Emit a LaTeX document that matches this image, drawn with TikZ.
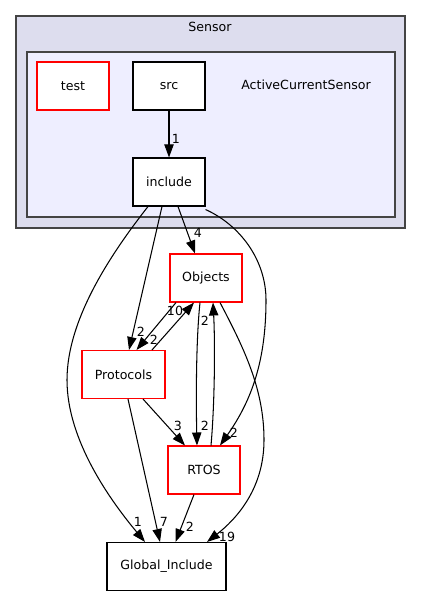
\documentclass[tikz,border=0pt]{standalone}
\usepackage{fontspec}
\setmainfont{DejaVu Sans}
\usetikzlibrary{arrows.meta,calc}
\definecolor{outerfill}{HTML}{DDDDEE}
\definecolor{innerfill}{HTML}{EEEEFF}
\definecolor{clusterborder}{HTML}{444444}
\definecolor{redborder}{HTML}{FF0000}
\begin{document}
\begin{tikzpicture}[x=1pt,y=-1pt,
  font=\fontsize{12.6}{15}\selectfont,
  box/.style={draw=black,fill=white,line width=1.05pt,minimum width=72pt,minimum height=48pt,inner sep=0pt},
  redbox/.style={box,draw=redborder},
  dep/.style={draw=black,line width=1.05pt,-{Triangle[length=13pt,width=9.3pt]}},
  lbl/.style={inner sep=0pt},
  cluster/.style={draw=clusterborder,line width=1.4pt}]
\useasboundingbox (0,0) rectangle (421,596);
% clusters
\draw[cluster,fill=outerfill] (16,16) rectangle (405,228);
\node[lbl] (sensorlbl) at (210,27) {Sensor};
\draw[cluster,fill=innerfill] (27,52) rectangle (395,217);
\node[lbl] (acslbl) at (306,85) {ActiveCurrentSensor};
% nodes
\node[redbox] (test) at (73,86) {test};
\node[box] (src) at (169,86) {src};
\node[box] (include) at (169,182) {include};
\node[redbox] (objects) at (206,278) {Objects};
\node[redbox, minimum width=83pt] (protocols) at (123.5,374.5) {Protocols};
\node[redbox] (rtos) at (204,470) {RTOS};
\node[box, minimum width=119pt] (global) at (166.5,566.5) {Global\_Include};
% edges
\draw[dep] (src) -- (include);
\draw[dep] ([xshift=9pt]include.south) -- ([xshift=-11pt]objects.north);
\draw[dep] ([xshift=-7pt]include.south) -- ([xshift=5.5pt]protocols.north);
\draw[dep] ([xshift=-21pt]include.south) .. controls (110,255) and (67,320) .. (67,380)
   .. controls (67,440) and (110,500) .. ([xshift=-21.5pt]global.north);
\draw[dep] ([yshift=-3pt]include.south east) .. controls (240,225) and (266,260) .. (266,300)
   .. controls (266,360) and (252,400) .. ([xshift=16pt]rtos.north);
\draw[dep] ([xshift=14pt]objects.south) .. controls (245,350) and (264,390) .. (264,440)
   .. controls (264,490) and (235,520) .. ([xshift=40.5pt]global.north);
\draw[dep] ([xshift=28.5pt]protocols.north) -- ([xshift=-12pt]objects.south);
\draw[dep] ([xshift=-30pt]objects.south) -- ([xshift=13pt]protocols.north);
\draw[dep] ([xshift=-6pt]objects.south) .. controls (196,340) and (196,400) .. ([xshift=-7pt]rtos.north);
\draw[dep] ([xshift=7pt]rtos.north) .. controls (215,400) and (215,340) .. ([xshift=7pt]objects.south);
\draw[dep] ([xshift=19.5pt]protocols.south) -- ([xshift=-19pt]rtos.north);
\draw[dep] ([xshift=4.5pt]protocols.south) -- ([xshift=-6.5pt]global.north);
\draw[dep] ([xshift=-10pt]rtos.south) -- ([xshift=9pt]global.north);
% edge labels
\node[lbl] (l1) at (176,139) {1};
\node[lbl] (l2) at (198,233) {4};
\node[lbl] (l3) at (141,332) {2};
\node[lbl] (l4) at (175,311) {10};
\node[lbl] (l5) at (154,340) {2};
\node[lbl] (l6) at (205,321) {2};
\node[lbl] (l7) at (205,426) {2};
\node[lbl] (l8) at (234,433) {2};
\node[lbl] (l9) at (178,426) {3};
\node[lbl] (l10) at (138,522) {1};
\node[lbl] (l11) at (164,522) {7};
\node[lbl] (l12) at (190,527) {2};
\node[lbl] (l13) at (227,537) {19};
\end{tikzpicture}
\end{document}
